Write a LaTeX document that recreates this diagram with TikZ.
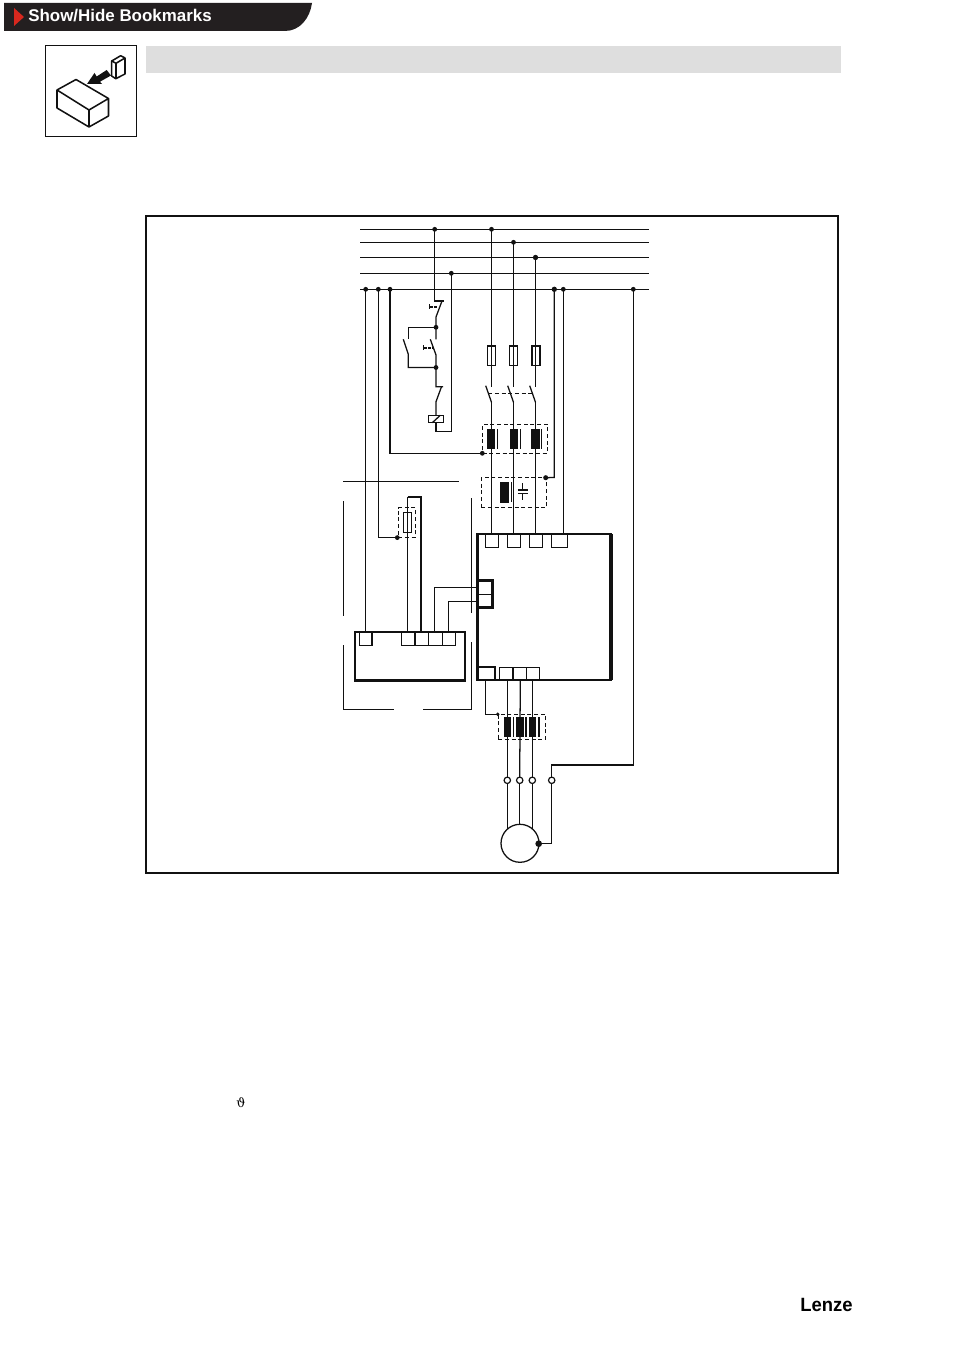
\documentclass[tikz,border=0pt]{standalone}
\usepackage{fontspec}
\setmainfont{Liberation Sans}
\newfontfamily\thetafont{DejaVu Serif}
\definecolor{ink}{HTML}{111111}
\definecolor{hdr}{HTML}{231F20}
\definecolor{band}{HTML}{DEDEDE}
\definecolor{arrowred}{HTML}{D8281E}
\tikzset{
  wire/.style={draw=ink,line width=0.95pt,line cap=butt,line join=miter},
  thin wire/.style={draw=ink,line width=0.8pt},
  dashlink/.style={draw=ink,line width=0.95pt,dash pattern=on 3pt off 2pt},
  thinbox/.style={draw=ink,line width=0.95pt,inner sep=0pt,outer sep=0pt},
  fatbox/.style={draw=ink,line width=1.9pt,inner sep=0pt,outer sep=0pt},
  dashbox/.style={draw=ink,line width=1pt,dash pattern=on 3pt off 2pt,inner sep=0pt,outer sep=0pt},
  solidbar/.style={fill=ink,draw=none,inner sep=0pt,outer sep=0pt},
  jdot/.style={circle,fill=ink,draw=none,inner sep=0pt,outer sep=0pt,minimum size=3.6pt},
  bigdot/.style={circle,fill=ink,draw=none,inner sep=0pt,outer sep=0pt,minimum size=5pt},
  ring/.style={circle,draw=ink,fill=white,line width=0.9pt,inner sep=0pt,outer sep=0pt,minimum size=4.8pt},
  motorc/.style={circle,draw=ink,line width=0.95pt,inner sep=0pt,outer sep=0pt,minimum size=28.5pt},
  iconline/.style={draw=ink,line width=1.15pt,line join=round},
}
\newcommand{\rectn}[6]{\node[#1,minimum width={(#5-#3)*0.75pt},minimum height={(#6-#4)*0.75pt}] (#2) at ({(#3+#5)/2},{(#4+#6)/2}) {};}
\begin{document}
\begin{tikzpicture}[x=0.75pt,y=-0.75pt]
\useasboundingbox (0,0) rectangle (954,1351);
\fill[white] (0,0) rectangle (954,1351);
% header
\fill[hdr] (4,3) -- (312,3) .. controls (310,18) and (300,31) .. (285,31) -- (4,31) -- cycle;
\fill[arrowred] (14,8) -- (24,17) -- (14,26) -- cycle;
\node[anchor=base west,inner sep=0pt,text=white,font=\bfseries\fontsize{12.7pt}{14pt}\selectfont] (title) at (28,22) {Show/Hide Bookmarks};
% icon
\rectn{draw=ink,line width=1pt,inner sep=0pt,outer sep=0pt}{iconbox}{45.5}{45.5}{136.5}{136.5}
\rectn{fill=band,inner sep=0pt,outer sep=0pt}{graybar}{146}{46}{841}{73}
\draw[iconline] (57,90) -- (76,79.5) -- (108.5,98.5) -- (89,110) -- cycle
  (57,90) -- (57,108) -- (89,127) -- (89,110) (108.5,98.5) -- (108.5,116) -- (89,127);
\draw[iconline,fill=white] (111.7,61) -- (120.7,55.7) -- (125,58) -- (125,74) -- (115.7,78.7) -- (111.7,76) -- cycle;
\draw[iconline] (111.7,61) -- (116,63.3) -- (125,58) (116,63.3) -- (116,78.7);
\fill[ink] (87,84) -- (94.5,73) -- (96.7,76.5) -- (106.7,70) -- (111,75.5) -- (100,81.7) -- (102,84) -- cycle;
% frame
\rectn{draw=ink,line width=1.5pt,inner sep=0pt,outer sep=0pt}{frame}{146}{216}{838}{873}
% bus bars
\foreach \nm/\yy in {a/229.3,b/242.3,c/257.3,d/273.3,e/289.3}{
  \coordinate (bus\nm w) at (360,\yy); \coordinate (bus\nm e) at (649,\yy);
  \draw[wire] (bus\nm w) -- (bus\nm e);
}
% junctions on bus
\node[jdot] (jc) at (434.7,229.3) {};
\node[jdot] (jl1) at (491.5,229.3) {};
\node[jdot] (jl2) at (513.5,242.3) {};
\node[bigdot,minimum size=4pt] (jl3) at (535.5,257.5) {};
\node[jdot] (jn) at (451.3,273.3) {};
\node[jdot] (jp1) at (365.7,289.3) {};
\node[jdot] (jp2) at (378.3,289.3) {};
\node[jdot] (jp3) at (390,289.3) {};
\node[bigdot,minimum size=4pt] (jp4) at (554.3,289.3) {};
\node[jdot] (jp5) at (563.3,289.3) {};
\node[jdot] (jp6) at (633.3,289.3) {};
% control circuit
\coordinate (s1t) at (434.7,301); \coordinate (s1r) at (444,301);
\coordinate (s1a) at (442,301); \coordinate (s1b) at (436,317);
\node[jdot] (j1) at (436,327.3) {};
\coordinate (s1c) at (436,339.3);
\node[jdot] (j2) at (436,367.5) {};
\coordinate (s2a) at (430.3,339.3); \coordinate (s2b) at (436,355);
\coordinate (s3a) at (403.3,339.3); \coordinate (s3b) at (408.3,354.3);
\coordinate (s3t) at (408.3,339.3);
\coordinate (s4t) at (436,386.7); \coordinate (s4r) at (443,386.7);
\coordinate (s4a) at (441.5,386.7); \coordinate (s4b) at (436,401.7);
\rectn{thinbox}{coil}{428.3}{415.3}{443.7}{422.7}
\coordinate (nret) at (451.3,431.7);
\coordinate (coilb) at (436,431.7);
\draw[wire] (jc.center) -- (s1t) -- (s1r);
\draw[wire] (s1a) -- (s1b) -- (s1c);
\draw[wire] (j1.center) -| (s3t);
\draw[wire] (s3a) -- (s3b) |- (j2.center);
\draw[wire] (s2a) -- (s2b) -- (s4t) -- (s4r);
\draw[wire] (s4a) -- (s4b) -- (coil.north);
\draw[wire] (coil.south) -- (coilb) -- (nret) -- (jn.center);
\draw[wire] (432.3,422.7) -- (440.3,415.3);
\draw[wire,line width=1pt] (429.3,304.5) -- (429.3,309.5);
\draw[wire,dash pattern=on 2.4pt off 1pt] (429.3,307) -- (438,307);
\draw[wire,line width=1pt] (423.3,345.5) -- (423.3,350.5);
\draw[wire,dash pattern=on 2.4pt off 1pt] (423.3,348) -- (433,348);
% fuses and main contactor
\rectn{thinbox}{f1}{487.3}{346}{495.3}{365.7}
\rectn{thinbox}{f2}{509.5}{346}{517.5}{365.7}
\rectn{thinbox}{f3}{532}{346}{540}{365.7}
\coordinate (k1t) at (491.5,386.7); \coordinate (k2t) at (513.5,386.7); \coordinate (k3t) at (535.5,386.7);
\coordinate (k1a) at (485.7,385.7); \coordinate (k2a) at (507.7,385.7); \coordinate (k3a) at (529.7,385.7);
\coordinate (k1b) at (491.5,402.3); \coordinate (k2b) at (513.5,402.3); \coordinate (k3b) at (535.5,402.3);
\draw[wire] (jl1.center) -- (k1t);
\draw[wire] (jl2.center) -- (k2t);
\draw[wire] (jl3.center) -- (k3t);
\draw[wire] (k1a) -- (k1b); \draw[wire] (k2a) -- (k2b); \draw[wire] (k3a) -- (k3b);
\draw[dashlink] (488.3,393.3) -- (532.3,393.3);
% main terminals
\rectn{fatbox}{inv}{477.3}{534}{611}{680}
\draw[draw=ink,line width=2.4pt] (611,534) -- (611,680);
\rectn{thinbox}{t1}{485.3}{534}{498.7}{547.3}
\rectn{thinbox}{t2}{507.3}{534}{520.7}{547.3}
\rectn{thinbox}{t3}{529.3}{534}{542.3}{547.3}
\rectn{thinbox}{t4}{551.3}{534}{567.3}{547.3}
\draw[wire] (k1b) -- (491.5,534);
\draw[wire] (k2b) -- (513.5,534);
\draw[wire] (k3b) -- (535.5,534);
\draw[wire] (jp5.center) -- (563.3,534);
% mains choke
\rectn{dashbox}{lbox}{482.7}{424.3}{547.3}{453.3}
\rectn{solidbar}{lb1}{487}{429.3}{495.3}{448.7}
\rectn{solidbar}{lb2}{510}{429.3}{518}{448.7}
\rectn{solidbar}{lb3}{531.3}{429.3}{540}{448.7}
\foreach \xx in {497.3,520.3,541.7}{\draw[wire] (\xx,429.3) -- (\xx,448.7);}
\node[jdot] (jlb) at (482.3,453.3) {};
\draw[wire] (jp3.center) |- (jlb.center);
% RFI filter
\rectn{dashbox}{fbox}{481.3}{477.7}{546.7}{507.7}
\rectn{solidbar}{fb1}{500.3}{482}{509}{502.7}
\draw[wire] (511.7,482) -- (511.7,502);
\draw[wire] (522.7,483.3) -- (522.7,489.5) (522.7,493.8) -- (522.7,500);
\draw[wire] (518,490) -- (527.7,490) (518,493.3) -- (527.7,493.3);
\node[jdot,minimum size=3.8pt] (jfb) at (545.7,477.7) {};
\draw[wire] (jp4.center) -- (554.3,477.5) -- (jfb.center);
% interface block on inverter
\rectn{fatbox}{ifb}{477.3}{580.7}{492.3}{607.3}
\coordinate (ifm) at (477.3,594.3); \coordinate (ifmr) at (492.3,594.3);
\draw[wire] (ifm) -- (ifmr);
% inverter bottom terminals
\rectn{fatbox,line width=1.3pt}{o0}{478.6}{667.3}{495.3}{680}
\rectn{thinbox}{o1}{499.3}{667.3}{513.3}{680}
\rectn{thinbox}{o2}{513.3}{667.3}{526.7}{680}
\rectn{thinbox}{o3}{526.7}{667.3}{539.3}{680}
\draw[wire,line width=1.4pt] (513.3,667.3) -- (513.3,680);
% output choke
\rectn{dashbox}{obox}{498.3}{714.3}{545.7}{739.3}
\rectn{solidbar}{ob1}{504}{717}{511}{736.7}
\rectn{solidbar}{ob2}{516}{717}{524}{736.7}
\rectn{solidbar}{ob3}{528.7}{717}{536}{736.7}
\foreach \xx in {513.3,526}{\draw[wire] (\xx,717) -- (\xx,736.7);}
\draw[wire,line width=1.5pt] (538.7,717) -- (538.7,736.7);
\node[jdot,minimum size=2.8pt] (job) at (497.7,714.3) {};
\draw[wire] (485.3,680) |- (job.center);
% motor
\node[motorc] (motor) at (520,843.3) {};
\node[ring] (r1) at (507.3,780.3) {};
\node[ring] (r2) at (519.7,780.3) {};
\node[ring] (r3) at (532.3,780.3) {};
\node[ring] (r4) at (551.7,780.3) {};
\draw[wire] (507.3,680) -- (r1.north);
\draw[wire] (520.3,680) -- (r2.north);
\draw[wire] (532.3,680) -- (r3.north);
\draw[wire] (r1.south) -- (507.3,828.7);
\draw[wire] (r2.south) -- (519.7,824.3);
\draw[wire] (r3.south) -- (532.3,828.7);
\node[bigdot] (mdot) at (538.7,843.7) {};
\draw[wire] (mdot.center) -| (r4.south);
\coordinate (pe) at (633.3,765);
\draw[wire] (r4.north) |- (pe) -- (jp6.center);
% controller
\rectn{fatbox}{ctl}{355}{632}{465}{680.3}
\rectn{thinbox}{c1}{359.3}{632}{372}{645.3}
\rectn{thinbox}{c2}{401.7}{632}{415}{645.3}
\rectn{thinbox}{c3}{415}{632}{428.7}{645.3}
\rectn{thinbox}{c4}{428.7}{632}{442.3}{645.3}
\rectn{thinbox}{c5}{442.3}{632}{455.3}{645.3}
\draw[wire] (jp1.center) -- (365.7,632);
\rectn{dashbox}{rbox}{398.3}{507.7}{415.3}{537.3}
\rectn{thinbox}{res}{403.3}{512.3}{411.7}{532.3}
\node[jdot] (jrb) at (397.3,537.6) {};
\draw[wire] (jp2.center) |- (jrb.center);
\coordinate (rt) at (407.7,496.7); \coordinate (rtr) at (421,496.7);
\draw[wire] (407.7,632) -- (rt);
\draw[wire,line width=1.4pt] (rt) -- (rtr) -- (421,632);
\draw[wire] (434.7,632) |- (477.3,587.3);
\draw[wire] (448.3,632) |- (477.3,601.3);
% shield outline
\coordinate (sa) at (343.3,481.3); \coordinate (sb) at (459,481.3);
\draw[thin wire] (sa) -- (sb);
\draw[thin wire] (343.3,501) -- (343.3,615.7);
\draw[thin wire] (343.3,645.3) -- (343.3,709.3) -- (394,709.3);
\draw[thin wire] (423,709.3) -- (471.7,709.3) -- (471.7,642);
\draw[thin wire] (471.7,498) -- (471.7,612.7);
% small symbol and logo
\node[anchor=center,inner sep=0pt,font=\thetafont\fontsize{9.5pt}{12pt}\selectfont] (theta) at (241,1103) {ϑ};
\node[anchor=base west,inner sep=0pt,text=black,font=\bfseries\fontsize{14.4pt}{16pt}\selectfont,xscale=0.96] (logo) at (800,1311.5) {Lenze};
\end{tikzpicture}
\end{document}
